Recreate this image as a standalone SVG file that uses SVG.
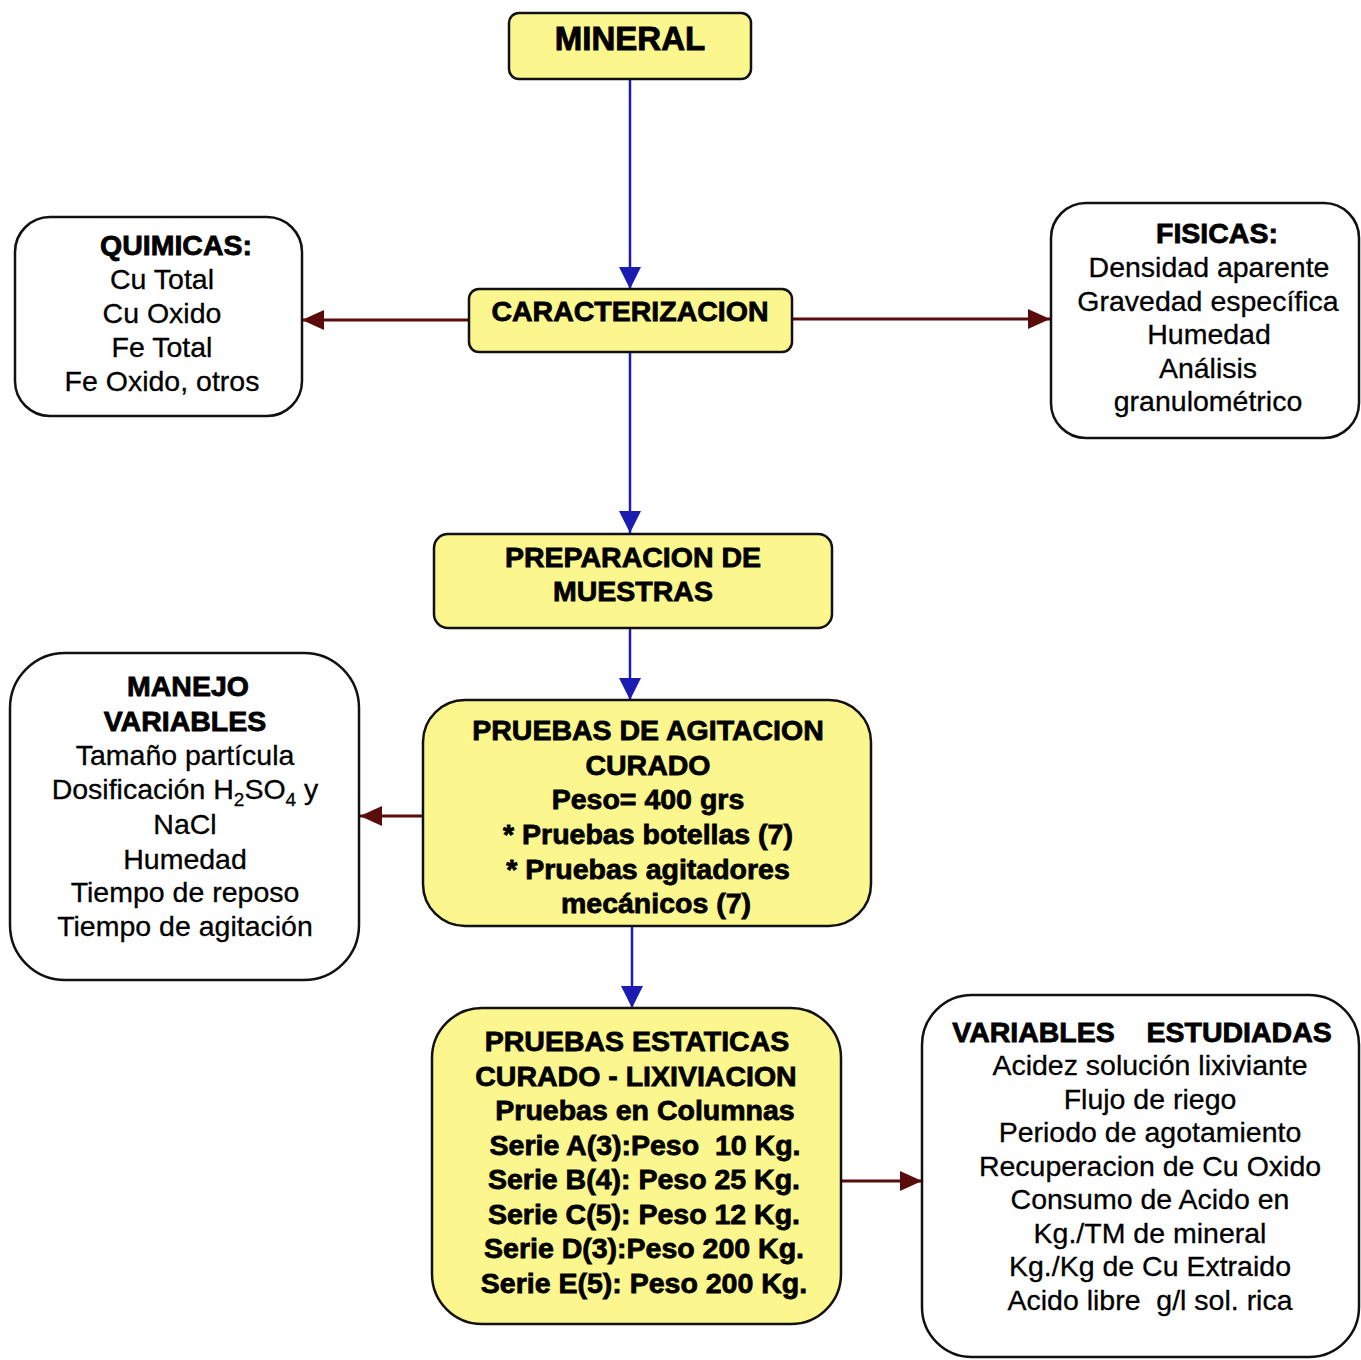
<svg xmlns="http://www.w3.org/2000/svg" width="1361" height="1360" viewBox="0 0 1361 1360">
  <style>
    .step { fill: #fbf78e; stroke: #111; stroke-width: 2.5; }
    .info { fill: #ffffff; stroke: #111; stroke-width: 2.5; }
    text { font-family: "Liberation Sans", Arial, sans-serif; fill: #000; text-anchor: middle; }
    .b { font-weight: bold; font-size: 28.5px; stroke: #000; stroke-width: 0.8; }
    .r { font-size: 28.5px; stroke: #000; stroke-width: 0.3; }
    .down { stroke: #1c1cb0; stroke-width: 2.5; fill: none; }
    .side { stroke: #5a0c0c; stroke-width: 3; fill: none; }
  </style>
  <defs>
    <marker id="headBlue" markerUnits="userSpaceOnUse" markerWidth="24" markerHeight="24" refX="22" refY="12" orient="auto">
      <path d="M0,1 L22,12 L0,23 Z" fill="#1c1cb0"/>
    </marker>
    <marker id="headRed" markerUnits="userSpaceOnUse" markerWidth="24" markerHeight="24" refX="22" refY="12" orient="auto">
      <path d="M0,2 L22,12 L0,22 Z" fill="#5a0c0c"/>
    </marker>
  </defs>

  <rect width="1361" height="1360" fill="#ffffff"/>

  <!-- connectors -->
  <g id="connectors">
    <line class="down" x1="630" y1="79" x2="630" y2="289" marker-end="url(#headBlue)"/>
    <line class="side" x1="469" y1="320" x2="302" y2="320" marker-end="url(#headRed)"/>
    <line class="side" x1="792" y1="319" x2="1050" y2="319" marker-end="url(#headRed)"/>
    <line class="down" x1="630" y1="352" x2="630" y2="533" marker-end="url(#headBlue)"/>
    <line class="down" x1="630" y1="628" x2="630" y2="700" marker-end="url(#headBlue)"/>
    <line class="side" x1="423" y1="816" x2="360" y2="816" marker-end="url(#headRed)"/>
    <line class="down" x1="632" y1="926" x2="632" y2="1008" marker-end="url(#headBlue)"/>
    <line class="side" x1="841" y1="1181" x2="922" y2="1181" marker-end="url(#headRed)"/>
  </g>

  <!-- process steps -->
  <g id="mineral">
    <rect class="step" x="509" y="13" width="242" height="66" rx="10"/>
    <text x="630" y="50" font-weight="bold" font-size="33" stroke="#000" stroke-width="0.9">MINERAL</text>
  </g>

  <g id="caracterizacion">
    <rect class="step" x="469" y="289" width="323" height="63" rx="10"/>
    <text class="b" x="630" y="321">CARACTERIZACION</text>
  </g>

  <g id="quimicas">
    <rect class="info" x="15" y="217" width="287" height="199" rx="35"/>
    <text class="b" x="176" y="255">QUIMICAS:</text>
    <text class="r" x="162" y="289">Cu Total</text>
    <text class="r" x="162" y="323">Cu Oxido</text>
    <text class="r" x="162" y="357">Fe Total</text>
    <text class="r" x="162" y="391">Fe Oxido, otros</text>
  </g>

  <g id="fisicas">
    <rect class="info" x="1051" y="203" width="308" height="235" rx="35"/>
    <text class="b" x="1217" y="243">FISICAS:</text>
    <text class="r" x="1209" y="277">Densidad aparente</text>
    <text class="r" x="1208" y="311">Gravedad específica</text>
    <text class="r" x="1209" y="344">Humedad</text>
    <text class="r" x="1208" y="378">Análisis</text>
    <text class="r" x="1208" y="411">granulométrico</text>
  </g>

  <g id="preparacion">
    <rect class="step" x="434" y="534" width="398" height="94" rx="14"/>
    <text class="b" x="633" y="567">PREPARACION DE</text>
    <text class="b" x="633" y="601">MUESTRAS</text>
  </g>

  <g id="agitacion">
    <rect class="step" x="423" y="700" width="448" height="226" rx="42"/>
    <text class="b" x="648" y="740">PRUEBAS DE AGITACION</text>
    <text class="b" x="648" y="775">CURADO</text>
    <text class="b" x="648" y="809">Peso= 400 grs</text>
    <text class="b" x="648" y="844">* Pruebas botellas (7)</text>
    <text class="b" x="648" y="879">* Pruebas agitadores</text>
    <text class="b" x="656" y="913">mecánicos (7)</text>
  </g>

  <g id="manejo">
    <rect class="info" x="10" y="653" width="349" height="327" rx="55"/>
    <text class="b" x="188" y="696">MANEJO</text>
    <text class="b" x="185" y="731">VARIABLES</text>
    <text class="r" x="185" y="765">Tamaño partícula</text>
    <text class="r" x="185" y="799">Dosificación H<tspan font-size="19" dy="7">2</tspan><tspan dy="-7">SO</tspan><tspan font-size="19" dy="7">4</tspan><tspan dy="-7"> y</tspan></text>
    <text class="r" x="185" y="834">NaCl</text>
    <text class="r" x="185" y="869">Humedad</text>
    <text class="r" x="185" y="902">Tiempo de reposo</text>
    <text class="r" x="185" y="936">Tiempo de agitación</text>
  </g>

  <g id="estaticas">
    <rect class="step" x="432" y="1008" width="409" height="316" rx="50"/>
    <text class="b" x="637" y="1051">PRUEBAS ESTATICAS</text>
    <text class="b" x="636" y="1086">CURADO - LIXIVIACION</text>
    <text class="b" x="645" y="1120">Pruebas en Columnas</text>
    <text class="b" x="645" y="1155" style="white-space:pre">Serie A(3):Peso  10 Kg.</text>
    <text class="b" x="644" y="1189">Serie B(4): Peso 25 Kg.</text>
    <text class="b" x="644" y="1224">Serie C(5): Peso 12 Kg.</text>
    <text class="b" x="644" y="1258">Serie D(3):Peso 200 Kg.</text>
    <text class="b" x="644" y="1293">Serie E(5): Peso 200 Kg.</text>
  </g>

  <g id="estudiadas">
    <rect class="info" x="922" y="995" width="437" height="362" rx="50"/>
    <text class="b" x="1142" y="1042" style="white-space:pre">VARIABLES    ESTUDIADAS</text>
    <text class="r" x="1150" y="1075">Acidez solución lixiviante</text>
    <text class="r" x="1150" y="1109">Flujo de riego</text>
    <text class="r" x="1150" y="1142">Periodo de agotamiento</text>
    <text class="r" x="1150" y="1176">Recuperacion de Cu Oxido</text>
    <text class="r" x="1150" y="1209">Consumo de Acido en</text>
    <text class="r" x="1150" y="1243">Kg./TM de mineral</text>
    <text class="r" x="1150" y="1276">Kg./Kg de Cu Extraido</text>
    <text class="r" x="1150" y="1310" style="white-space:pre">Acido libre  g/l sol. rica</text>
  </g>
</svg>
